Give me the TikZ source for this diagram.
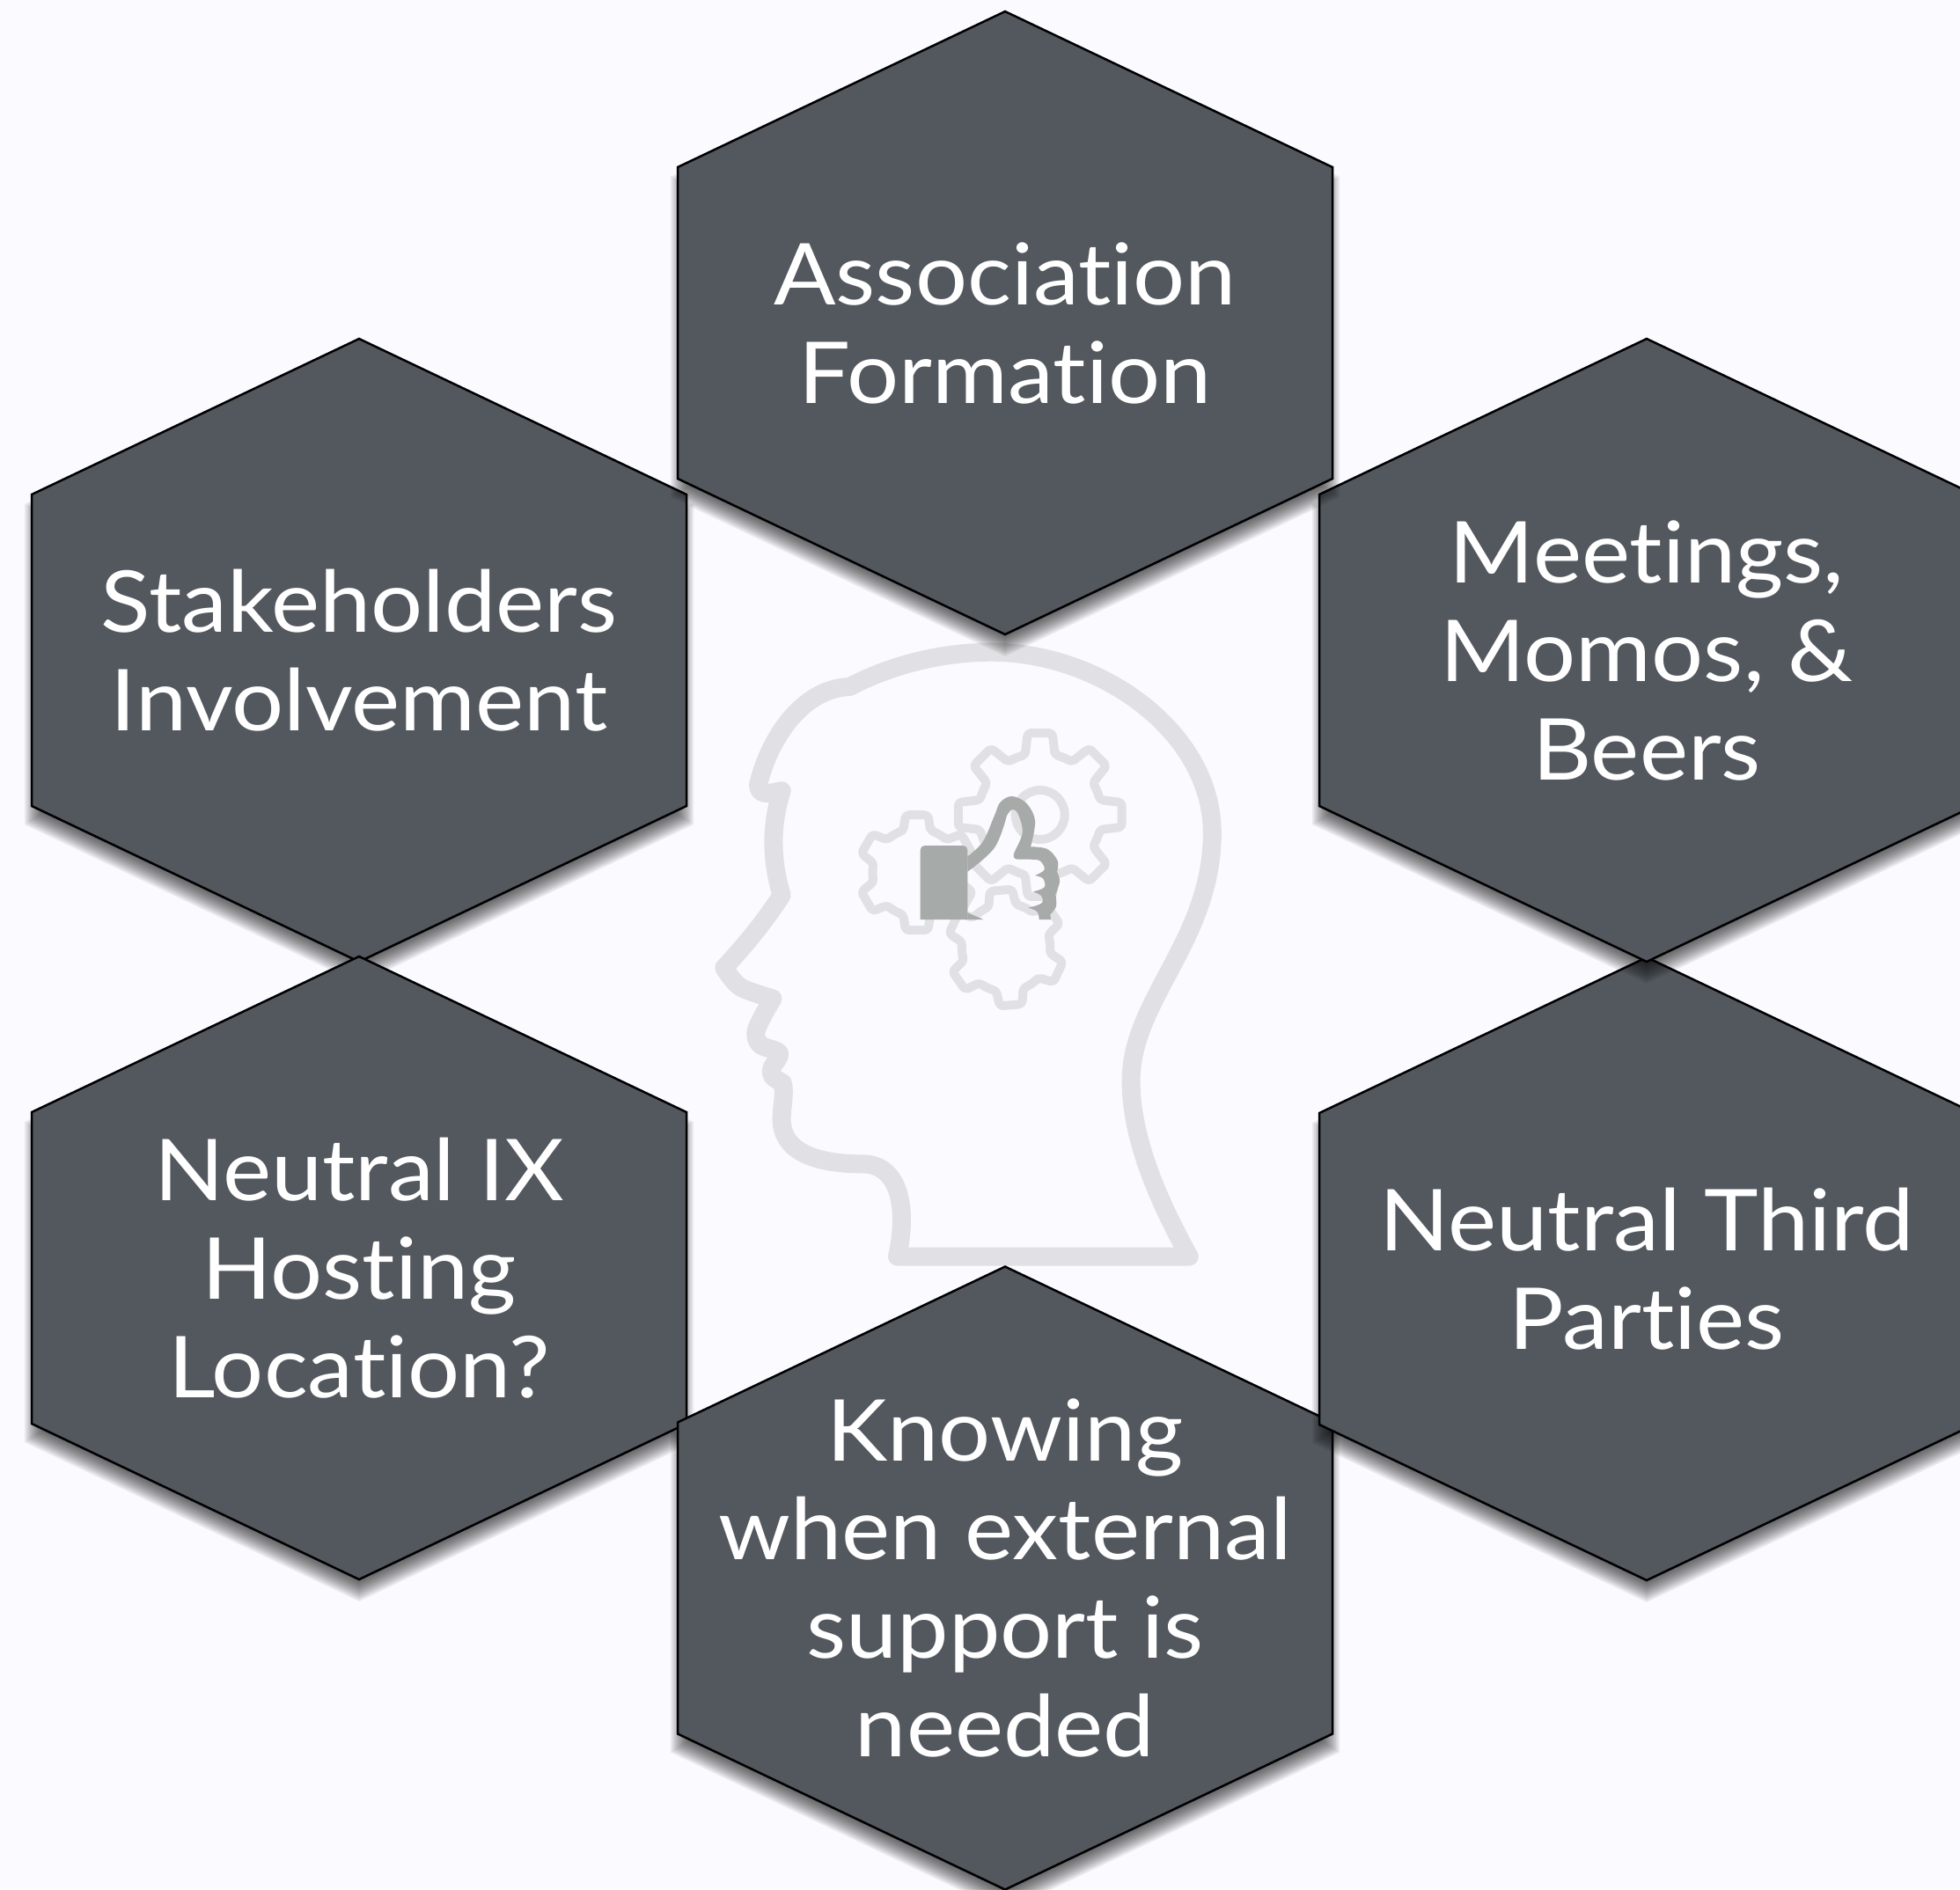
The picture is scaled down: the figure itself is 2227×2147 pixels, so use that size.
\documentclass[tikz,border=0pt]{standalone}
\usepackage{fontspec}
\setmainfont[Ligatures=NoCommon,FakeStretch=1.075]{Lato}
\definecolor{pagebg}{HTML}{FBFAFE}
\definecolor{hexfill}{HTML}{53585F}
\definecolor{headline}{HTML}{E1E0E4}
\definecolor{thumbgrey}{HTML}{A6AAA8}
\tikzset{
  hexedge/.style={fill=hexfill,draw=black,line width=1.25pt,line join=miter},
  hexlabel/.style={text=white,align=center,inner sep=0pt,font=\fontsize{48.5pt}{56pt}\selectfont},
  headstroke/.style={draw=headline,line width=10.5pt,line join=round,line cap=round},
  cogstroke/.style={draw=headline,line width=5pt,line join=round,rounded corners=2pt}
}
% shadow layer: offset d of the hexagon, moved down by 16 px
\newcommand{\shadowlayer}[3]{%
  \pgfmathsetmacro{\wd}{372+#3}%
  \pgfmathsetmacro{\ap}{354+1.107*#3}%
  \pgfmathsetmacro{\sh}{177+0.632*#3}%
  \fill[black,opacity=0.07,shift={(#1,#2+16)}]
    (0,-\ap) -- (\wd,-\sh) -- (\wd,\sh) -- (0,\ap) -- (-\wd,\sh) -- (-\wd,-\sh) -- cycle;}
% #1 name, #2 cx, #3 cy, #4 text dy, #5 text
\newcommand{\hexcell}[5]{%
  \foreach \dd in {8,6,4,2,0,-2,-4,-6,-8,-10,-12,-14}{\shadowlayer{#2}{#3}{\dd}}%
  \draw[hexedge,shift={(#2,#3)}]
    (0,-354) -- (372,-177) -- (372,177) -- (0,354) -- (-372,177) -- (-372,-177) -- cycle;
  \node[hexlabel] (#1) at (#2,#3+#4) {#5};}
% #1 cx #2 cy #3 root r #4 tip r #5 teeth #6 rotation #7 root half angle #8 tip half angle
\newcommand{\cog}[8]{%
  \begin{scope}[shift={(#1,#2)},x=0.5pt,y=0.5pt]
    \pgfmathsetmacro{\stepang}{360/#5}
    \pgfmathtruncatemacro{\lastk}{#5-1}
    \draw[cogstroke] (#6-#7:#3)
      \foreach \k [evaluate=\k as \a using #6+\k*\stepang] in {0,...,\lastk}{
        -- (\a-#8:#4) -- (\a+#8:#4) -- (\a+#7:#3)
        arc[start angle=\a+#7,delta angle=\stepang-2*#7,radius=#3]
      } -- cycle;
  \end{scope}}
\begin{document}
\begin{tikzpicture}[x=0.5pt,y=-0.5pt]
\useasboundingbox (0,0) rectangle (2227,2147);
\clip (0,0) rectangle (2227,2147);
\fill[pagebg] (0,0) rectangle (2227,2147);

% head outline
\begin{scope}[shift={(780,700)},x=0.204pt,y=-0.24235pt]
  \draw[headstroke]
    (455,166) .. controls (570,115) and (710,85) .. (850,85)
    .. controls (1150,85) and (1464,270) .. (1464,509)
    .. controls (1464,760) and (1238,900) .. (1238,1090)
    .. controls (1238,1230) and (1320,1380) .. (1400,1502)
    -- (587,1502)
    .. controls (615,1400) and (600,1285) .. (490,1285)
    .. controls (370,1285) and (265,1260) .. (265,1180)
    .. controls (265,1150) and (275,1120) .. (268,1095)
    -- plot[smooth,tension=0.55] coordinates {(268,1095)(240,1080)(238,1060)(258,1025)(205,1005)(195,970)(240,897)}
    -- plot[smooth,tension=0.55] coordinates {(240,897)(150,870)(105,825)}
    .. controls (160,775) and (215,720) .. (265,655)
    .. controls (235,570) and (235,490) .. (265,410)
    .. controls (235,415) and (200,425) .. (200,395)
    .. controls (230,290) and (320,170) .. (455,166);
\end{scope}

% gears
\cog{1181.7}{926}{70}{94}{8}{90}{14}{8.6}
\draw[draw=headline,line width=5pt] (1181.7,926) circle[radius=28];
\cog{1041.7}{991.7}{50}{66.7}{6}{90}{18}{11}
\cog{1143}{1077}{50}{66.7}{6}{95}{18}{11}

% thumb
\begin{scope}[shift={(940,800)},x=0.16667pt,y=-0.16667pt]
  \fill[thumbgrey] (317,735) [rounded corners=2.5pt] -- (317,483) -- (478,483) [sharp corners] -- (478,735) -- cycle;
  \fill[thumbgrey] (478,712) -- (532,735) -- (478,735) -- cycle;
  \fill[thumbgrey] (478,520)
    -- plot[smooth,tension=0.6] coordinates {(478,520)(530,470)(570,380)(590,335)(630,315)(680,340)(708,400)(693,487)}
    -- plot[smooth,tension=0.6] coordinates {(693,487)(750,495)(785,535)(783,572)}
    -- plot[smooth,tension=0.6] coordinates {(783,572)(792,605)(778,650)}
    -- plot[smooth,tension=0.6] coordinates {(778,650)(780,690)(760,718)}
    -- (762,735) -- (722,735)
    -- plot[smooth,tension=0.6] coordinates {(722,735)(715,708)(685,695)}
    -- plot[smooth,tension=0.6] coordinates {(685,695)(730,680)(730,655)(702,640)}
    -- plot[smooth,tension=0.6] coordinates {(702,640)(740,625)(735,595)(708,585)}
    -- plot[smooth,tension=0.6] coordinates {(708,585)(740,565)(725,535)(690,530)(650,530)}
    -- plot[smooth,tension=0.6] coordinates {(650,530)(635,515)(665,440)(650,375)(630,360)(612,380)}
    -- plot[smooth,tension=0.6] coordinates {(612,380)(570,490)(478,572)}
    -- cycle;
\end{scope}

% hexagons
\hexcell{stake}{408}{739}{0}{Stakeholders\\Involvement}
\hexcell{hosting}{408}{1441}{0}{Neutral IX\\Hosting\\Location?}
\hexcell{support}{1142}{1793.5}{0}{Knowing\\when external\\support is\\needed}
\hexcell{third}{1871}{1442}{0}{Neutral Third\\Parties}
\hexcell{meetings}{1871}{739}{0}{Meetings,\\Momos, \&\\Beers}
\hexcell{assoc}{1142}{367}{0}{Association\\Formation}
\end{tikzpicture}
\end{document}
